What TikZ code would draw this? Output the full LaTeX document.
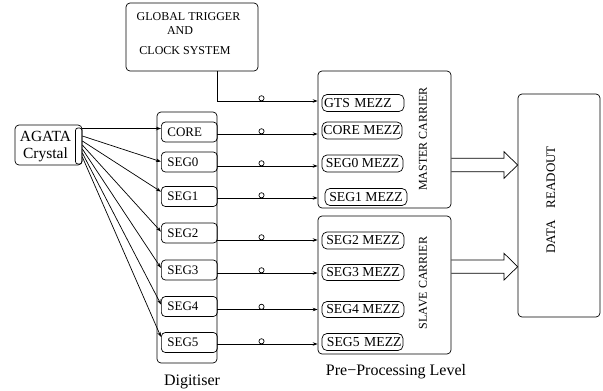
\documentclass[tikz,border=0pt]{standalone}
\usepackage{fontspec}
\setmainfont{Liberation Serif}
\usetikzlibrary{arrows.meta}
\begin{document}
\begin{tikzpicture}[x=1pt,y=-1pt,line width=0.7pt,
  box/.style={draw,rounded corners=4pt,inner sep=0pt},
  chan/.style={draw,rounded corners=4pt,minimum height=20pt,text width=44pt,inner xsep=6pt,inner ysep=0pt,align=left,anchor=west,font=\fontsize{13}{15}\selectfont},
  mezz/.style={draw,rounded corners=5pt,inner sep=0pt,minimum height=17pt,font=\fontsize{13.7}{15}\selectfont},
  sig/.style={-{Stealth[length=5pt,width=3.5pt]}},
  lbl/.style={inner sep=0pt,anchor=base},
  tap/.style={line width=0.7pt}]
\useasboundingbox (0,0) rectangle (603,391);
% global trigger
\node[box,minimum width=132pt,minimum height=68pt] (gts) at (192,37) {};
\node[lbl,font=\fontsize{12}{14}\selectfont] (gtsa) at (188.5,20) {GLOBAL TRIGGER};
\node[lbl,font=\fontsize{12}{14}\selectfont] (gtsb) at (180,34.3) {AND};
\node[lbl,font=\fontsize{12}{14}\selectfont] (gtsc) at (185,54) {CLOCK SYSTEM};
% AGATA
\node[box,minimum width=67pt,minimum height=40pt] (agata) at (48.5,145) {};
\node[draw,rounded corners=2.5pt,inner sep=0pt,minimum width=6.5pt,minimum height=36pt] (agin) at (78.75,146) {};
\node[lbl,font=\fontsize{15.5}{17}\selectfont] (agt1) at (45.5,141.7) {AGATA};
\node[lbl,font=\fontsize{15.5}{17}\selectfont] (agt2) at (45.5,158) {Crystal};
% digitiser
\node[box,minimum width=60pt,minimum height=251pt] (dig) at (187,237.5) {};
\node[chan] (core) at (161,132) {CORE};
\node[chan] (seg0) at (161,162) {SEG0};
\node[chan] (seg1) at (161,196.5) {SEG1};
\node[chan] (seg2) at (161,233) {SEG2};
\node[chan] (seg3) at (161,270) {SEG3};
\node[chan] (seg4) at (161,306.5) {SEG4};
\node[chan] (seg5) at (161,342.5) {SEG5};
\node[lbl,font=\fontsize{16}{18}\selectfont] (digl) at (192,385) {Digitiser};
% carriers
\node[box,minimum width=133pt,minimum height=137pt] (master) at (384.5,139.5) {};
\node[box,minimum width=133pt,minimum height=138pt] (slave) at (384.5,285) {};
\node[inner sep=0pt,rotate=90,font=\fontsize{12}{14}\selectfont] (mlab) at (423,139) {MASTER CARRIER};
\node[inner sep=0pt,rotate=90,font=\fontsize{12}{14}\selectfont] (slab) at (423,283) {SLAVE CARRIER};
\node[mezz,minimum width=82pt,text width=78pt,align=left] (gtsm) at (363,103) {GTS MEZZ};
\node[mezz,minimum width=80pt] (corem) at (362,130.5) {CORE MEZZ};
\node[mezz,minimum width=81pt] (seg0m) at (362.5,163.5) {SEG0 MEZZ};
\node[mezz,minimum width=82pt] (seg1m) at (366,197) {SEG1 MEZZ};
\node[mezz,minimum width=82pt] (seg2m) at (363,240.5) {SEG2 MEZZ};
\node[mezz,minimum width=82pt,minimum height=16pt] (seg3m) at (363,272.5) {SEG3 MEZZ};
\node[mezz,minimum width=82pt,minimum height=16pt] (seg4m) at (363,309.5) {SEG4 MEZZ};
\node[mezz,minimum width=81pt,text width=78pt,align=right] (seg5m) at (362.5,342) {SEG5 MEZZ};
\node[lbl,font=\fontsize{16}{18}\selectfont] (ppl) at (396,375) {Pre{\fontspec{Liberation Serif}\symbol{"2212}}Processing Level};
% readout
\node[box,minimum width=82pt,minimum height=223pt] (readout) at (559,205.5) {};
\node[inner sep=0pt,rotate=90,font=\fontsize{13}{15}\selectfont] (rlab) at (551,200) {DATA\hspace{12pt}READOUT};
% GTS connection
\draw[sig] (gts.south -| 217.5,0) -- (217.5,101) -- (master.west |- 0,101);
\draw[tap] (261.5,98.3) circle (2.6pt);
% channel connections
\foreach \yy/\car in {134/master,166/master,198/master,240/slave,273/slave,309.5/slave,344/slave}{
  \draw[sig] (dig.east |- 0,\yy) -- (\car.west |- 0,\yy);
  \draw[tap] (261.5,{\yy-2.7}) circle (2.6pt);
}
% fan from crystal
\foreach \s/\t/\n in {128.5/128.5/core,136/161.7/seg0,141/191.7/seg1,145/231.7/seg2,149/268/seg3,153/304.5/seg4,157/337/seg5}{
  \draw[sig] (agin.east |- 0,\s) -- (\n.west |- 0,\t);
}
% hollow arrows to readout
\draw (master.east |- 0,158.3) -- (504,158.3) -- (504,151.7) -- (readout.west |- 0,165) -- (504,178.3) -- (504,171.7) -- (master.east |- 0,171.7);
\draw (slave.east |- 0,260) -- (504,260) -- (504,253.3) -- (readout.west |- 0,266.7) -- (504,280) -- (504,273.3) -- (slave.east |- 0,273.3);
\end{tikzpicture}
\end{document}
